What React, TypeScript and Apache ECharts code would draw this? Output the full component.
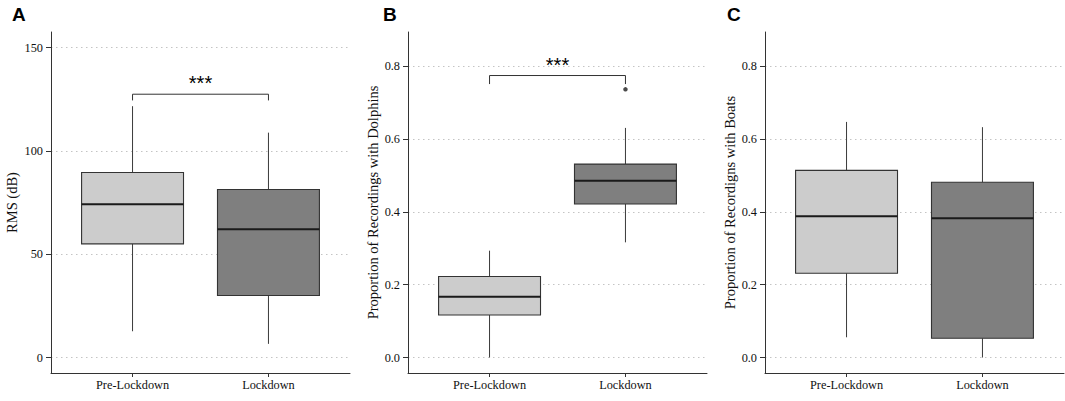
import React, { useEffect, useRef } from "react";
import * as echarts from "echarts";

const categories = ["Pre-Lockdown", "Lockdown"];
// each row: [lower whisker, Q1, median, Q3, upper whisker]
const rmsStats = [
  [12.7, 55.0, 74.1, 89.5, 121.6],
  [6.6, 30.0, 62.0, 81.3, 108.8],
];
const dolphinStats = [
  [0.0, 0.117, 0.167, 0.2225, 0.2936],
  [0.3165, 0.422, 0.486, 0.5316, 0.631],
];
const dolphinOutliers = [[2, 0.737]];
const boatStats = [
  [0.0556, 0.2317, 0.3885, 0.5144, 0.6475],
  [0.0, 0.0529, 0.383, 0.4815, 0.633],
];
const rmsTicks = [0, 50, 100, 150];
const propTicks = [0, 0.2, 0.4, 0.6, 0.8];
// [bar height, tip end]
const rmsBracket = [127.4, 124.4];
const dolphinBracket = [0.775, 0.7515];
const significance = "***";
const panelLabels = ["A", "B", "C"];
const yTitles = [
  "RMS (dB)",
  "Proportion of Recordings with Dolphins",
  "Proportion of Recordigns with Boats",
];

const SERIF = "'Liberation Serif', 'Times New Roman', serif";
const SANS = "'Liberation Sans', Arial, sans-serif";

const grids = [
  { left: 51, top: 32, width: 299, height: 341 },
  { left: 408, top: 32, width: 299, height: 341 },
  { left: 765, top: 32, width: 299, height: 341 },
];
const yRanges = [
  [-7.5, 157.5],
  [-0.0426, 0.8946],
  [-0.0426, 0.8946],
];
const nameGaps = [32, 27, 28];
const labelX = [12, 383, 727];

function boxRender(params: any, api: any) {
  const x = api.value(0);
  const low = api.value(1);
  const q1 = api.value(2);
  const med = api.value(3);
  const q3 = api.value(4);
  const high = api.value(5);
  const half = 0.375;
  const pLow = api.coord([x, low]);
  const pQ1 = api.coord([x, q1]);
  const pMed = api.coord([x, med]);
  const pQ3 = api.coord([x, q3]);
  const pHigh = api.coord([x, high]);
  const left = api.coord([x - half, q3])[0];
  const right = api.coord([x + half, q3])[0];
  const fill = x === 1 ? "#cccccc" : "#7f7f7f";
  return {
    type: "group",
    children: [
      {
        type: "line",
        shape: { x1: pHigh[0], y1: pHigh[1], x2: pQ3[0], y2: pQ3[1] },
        style: { stroke: "#3a3a3a", lineWidth: 1 },
      },
      {
        type: "line",
        shape: { x1: pQ1[0], y1: pQ1[1], x2: pLow[0], y2: pLow[1] },
        style: { stroke: "#3a3a3a", lineWidth: 1 },
      },
      {
        type: "rect",
        shape: { x: left, y: pQ3[1], width: right - left, height: pQ1[1] - pQ3[1] },
        style: { fill, stroke: "#333", lineWidth: 1.1 },
      },
      {
        type: "line",
        shape: { x1: left, y1: pMed[1], x2: right, y2: pMed[1] },
        style: { stroke: "#1a1a1a", lineWidth: 2 },
      },
    ],
  };
}

function bracketRender(params: any, api: any) {
  const bar = api.value(0);
  const tip = api.value(1);
  const a = api.coord([1, tip]);
  const b = api.coord([1, bar]);
  const c = api.coord([2, bar]);
  const d = api.coord([2, tip]);
  const mid = api.coord([1.5, bar]);
  return {
    type: "group",
    children: [
      {
        type: "polyline",
        shape: { points: [a, b, c, d] },
        style: { stroke: "#333", lineWidth: 1, fill: "none" },
      },
      {
        type: "text",
        x: mid[0],
        y: mid[1] - 11,
        style: {
          text: significance,
          fontFamily: SANS,
          fontSize: 20,
          fill: "#000",
          align: "center",
          verticalAlign: "middle",
        },
      },
    ],
  };
}

export default function App() {
  const ref = useRef<HTMLDivElement>(null);
  useEffect(() => {
    if (!ref.current) return;
    const chart = echarts.init(ref.current, null, { renderer: "svg" });
    const tickSets = [rmsTicks, propTicks, propTicks];
    const xAxis = grids.map((_, i) => ({
      gridIndex: i,
      type: "value",
      min: 0.4,
      max: 2.6,
      axisLine: { show: true, onZero: false, lineStyle: { color: "#333", width: 1 } },
      axisTick: { show: true, customValues: [1, 2], length: 4, lineStyle: { color: "#333" } },
      axisLabel: {
        customValues: [1, 2],
        formatter: (v: number) => categories[Math.round(v) - 1] ?? "",
        margin: 6,
        color: "#111",
        fontFamily: SERIF,
        fontSize: 12.3,
      },
      splitLine: { show: false },
    }));
    const yAxis = grids.map((_, i) => ({
      gridIndex: i,
      type: "value",
      min: yRanges[i][0],
      max: yRanges[i][1],
      name: yTitles[i],
      nameLocation: "middle",
      nameGap: nameGaps[i],
      nameRotate: 90,
      nameTextStyle: { fontFamily: SERIF, fontSize: 14.5, color: "#111" },
      axisLine: { show: true, onZero: false, lineStyle: { color: "#333", width: 1 } },
      axisTick: { show: true, customValues: tickSets[i], length: 5, lineStyle: { color: "#333" } },
      axisLabel: {
        customValues: tickSets[i],
        formatter: (v: number) => (i === 0 ? String(Math.round(v)) : v.toFixed(1)),
        margin: 8,
        color: "#111",
        fontFamily: SERIF,
        fontSize: 12.3,
      },
      splitLine: {
        show: true,
        lineStyle: { color: "#c4c4c4", width: 1, type: [1.5, 3.5] },
      },
    }));
    const statSets = [rmsStats, dolphinStats, boatStats];
    const series: any[] = statSets.map((stats, i) => ({
      type: "custom",
      xAxisIndex: i,
      yAxisIndex: i,
      renderItem: boxRender,
      data: stats.map((s, k) => [k + 1, ...s]),
      encode: { x: 0, y: [1, 2, 3, 4, 5] },
      silent: true,
    }));
    series.push({
      type: "scatter",
      xAxisIndex: 1,
      yAxisIndex: 1,
      data: dolphinOutliers,
      symbolSize: 4.5,
      itemStyle: { color: "#1e1e1e" },
      silent: true,
    });
    [rmsBracket, dolphinBracket].forEach((br, i) => {
      series.push({
        type: "custom",
        xAxisIndex: i,
        yAxisIndex: i,
        renderItem: bracketRender,
        data: [br],
        encode: { y: [0, 1] },
        silent: true,
      });
    });
    chart.setOption({
      animation: false,
      backgroundColor: "#ffffff",
      grid: grids,
      xAxis,
      yAxis,
      series,
      graphic: panelLabels.map((t, i) => ({
        type: "text",
        x: labelX[i],
        y: 14,
        style: {
          text: t,
          fontFamily: SANS,
          fontWeight: "bold",
          fontSize: 19,
          fill: "#000",
          verticalAlign: "middle",
        },
      })),
    });
    return () => chart.dispose();
  }, []);
  return (
    <div
      ref={ref}
      style={{ position: "absolute", left: 0, top: 0, width: 1065, height: 401 }}
    />
  );
}
